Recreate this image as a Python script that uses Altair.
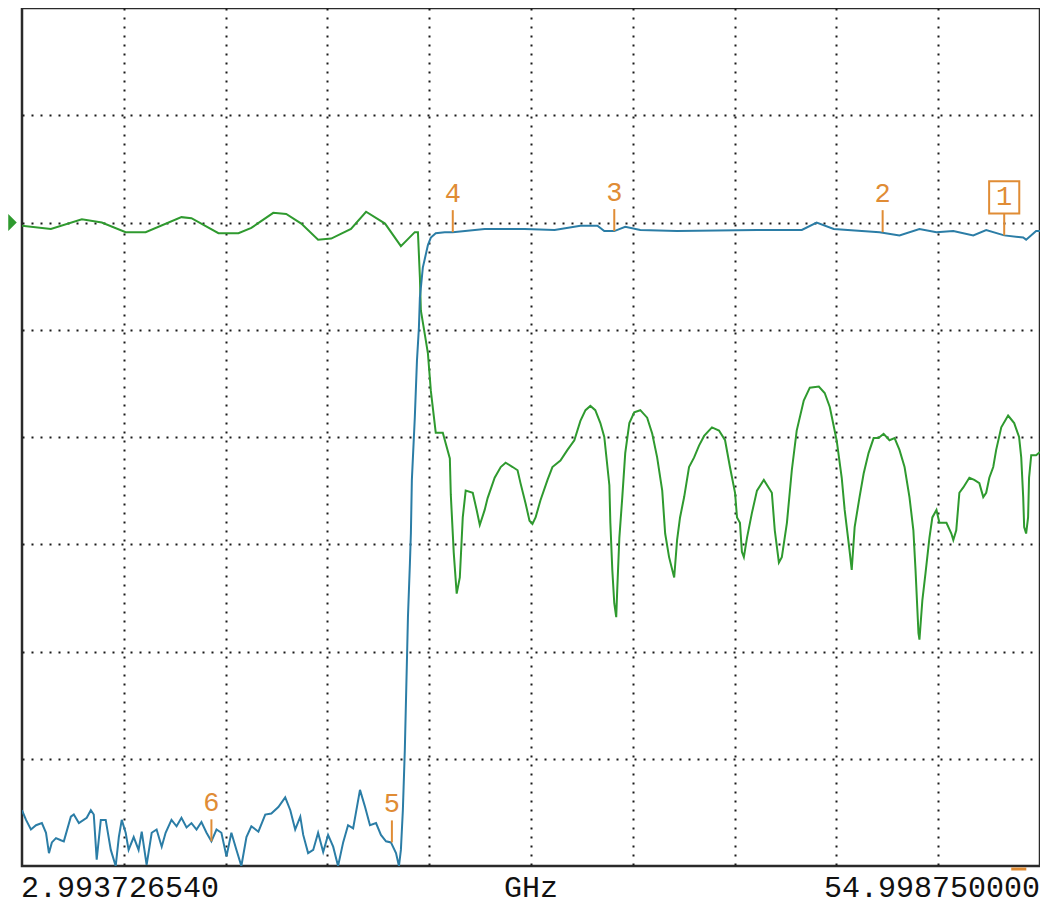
import altair as alt
import pandas as pd

# ---- axis / annotation texts ----
F_START = 2.993726540
F_STOP = 54.998750000
START_LABEL = "2.993726540"
STOP_LABEL = "54.998750000"
UNIT_LABEL = "GHz"
DB_MIN, DB_MAX = -60, 20   # 10 dB / division, reference 0 dB

# ---- green trace (reflection) : GHz / dB ----
green_f = [2.99, 4.47, 6.05, 7.07, 8.29, 9.31, 11.14, 11.65, 13.03, 14.05,
           14.71, 15.83, 16.49, 17.26, 18.12, 18.79, 19.80, 20.57, 21.54, 22.35,
           23.06, 23.22, 23.32, 23.37, 23.57, 23.73, 23.88, 24.13, 24.49, 24.85,
           24.90, 25.05, 25.20, 25.36, 25.51, 25.66, 26.02, 26.22, 26.38, 26.63,
           26.78, 27.14, 27.45, 27.70, 28.06, 28.31, 28.46, 28.72, 28.92, 29.07,
           29.23, 29.48, 29.84, 30.09, 30.50, 30.86, 31.21, 31.52, 31.78, 32.03,
           32.28, 32.54, 32.74, 33.00, 33.05, 33.15, 33.25, 33.35, 33.40, 33.51,
           33.66, 33.81, 34.02, 34.27, 34.58, 34.93, 35.19, 35.44, 35.70, 35.85,
           36.05, 36.31, 36.46, 36.61, 36.82, 37.07, 37.33, 37.58, 37.84, 38.24,
           38.60, 38.91, 39.16, 39.42, 39.52, 39.67, 39.77, 39.87, 40.03, 40.28,
           40.54, 40.89, 41.30, 41.45, 41.66, 41.81, 42.07, 42.32, 42.57, 42.93,
           43.24, 43.70, 44.00, 44.26, 44.61, 44.87, 45.02, 45.27, 45.38, 45.53,
           45.78, 45.99, 46.24, 46.50, 46.75, 47.01, 47.31, 47.57, 47.82, 48.08,
           48.33, 48.53, 48.64, 48.79, 48.84, 48.99, 49.15, 49.35, 49.50, 49.71,
           49.86, 50.22, 50.47, 50.57, 50.72, 50.88, 51.08, 51.39, 51.64, 51.90,
           52.10, 52.25, 52.41, 52.61, 52.76, 53.02, 53.37, 53.68, 53.93, 54.04,
           54.14, 54.19, 54.29, 54.39, 54.44, 54.55, 54.80, 55.00]
green_db = [-0.3, -0.6, 0.3, 0.0, -0.9, -0.9, 0.5, 0.4, -1.0, -1.0,
            -0.5, 0.9, 0.8, -0.1, -1.6, -1.5, -0.6, 1.0, -0.1, -2.2,
            -0.9, -0.9, -5.1, -8.2, -10.4, -12.2, -15.7, -19.6, -19.6, -22.0,
            -25.4, -30.8, -34.6, -33.1, -27.5, -25.0, -25.2, -26.8, -28.2, -26.8,
            -25.7, -23.8, -22.8, -22.4, -22.8, -23.1, -24.3, -26.2, -27.8, -28.1,
            -27.5, -25.9, -24.0, -22.8, -22.2, -21.2, -20.3, -18.5, -17.5, -17.1,
            -17.5, -18.7, -20.0, -24.5, -28.0, -32.4, -35.5, -36.8, -34.3, -29.4,
            -25.6, -21.5, -18.7, -17.7, -17.5, -18.2, -19.7, -21.9, -25.0, -29.0,
            -31.2, -33.1, -29.6, -27.5, -25.6, -22.8, -21.9, -20.8, -19.9, -19.1,
            -19.4, -20.3, -22.8, -25.2, -27.5, -28.0, -30.7, -31.2, -29.4, -27.1,
            -25.0, -24.0, -25.2, -28.7, -31.7, -31.2, -28.0, -23.1, -19.4, -16.6,
            -15.4, -15.3, -15.9, -17.2, -20.3, -23.8, -26.8, -30.6, -32.4, -28.4,
            -25.6, -23.4, -21.5, -20.1, -20.1, -19.7, -20.3, -20.1, -21.2, -22.8,
            -25.6, -28.7, -32.4, -38.3, -38.9, -35.2, -32.7, -29.4, -27.5, -26.8,
            -28.0, -28.0, -29.0, -29.6, -28.7, -25.2, -24.7, -23.8, -24.0, -24.3,
            -25.6, -25.2, -23.8, -22.8, -21.2, -19.1, -18.0, -18.7, -20.0, -21.9,
            -25.6, -28.4, -29.0, -27.5, -23.8, -21.7, -21.7, -21.4]

# ---- blue trace (transmission) : GHz / dB ----
blue_f = [2.99, 3.20, 3.45, 3.71, 4.01, 4.22, 4.37, 4.52, 4.73, 4.98,
          5.13, 5.49, 5.64, 5.90, 6.30, 6.51, 6.66, 6.81, 7.02, 7.27,
          7.53, 7.78, 7.94, 8.09, 8.29, 8.44, 8.70, 8.95, 9.11, 9.36,
          9.62, 9.87, 10.13, 10.33, 10.63, 10.89, 11.14, 11.40, 11.65, 11.91,
          12.16, 12.42, 12.67, 12.93, 13.18, 13.44, 13.69, 13.95, 14.20, 14.46,
          14.71, 15.07, 15.42, 15.73, 16.09, 16.44, 16.70, 16.95, 17.21, 17.36,
          17.61, 17.87, 18.12, 18.38, 18.63, 18.89, 19.14, 19.40, 19.65, 19.91,
          20.26, 20.52, 20.77, 21.08, 21.33, 21.59, 21.84, 22.10, 22.25, 22.35,
          22.45, 22.55, 22.71, 22.81, 22.86, 22.91, 23.06, 23.17, 23.27, 23.32,
          23.47, 23.57, 23.73, 23.88, 24.13, 24.59, 25.00, 26.63, 28.67, 30.20,
          31.52, 32.39, 32.74, 33.25, 33.81, 34.58, 36.46, 40.54, 42.83, 43.59,
          44.46, 46.80, 47.82, 48.84, 49.71, 50.57, 51.59, 52.25, 53.17, 54.14,
          54.29, 54.80, 55.00]
blue_db = [-54.8, -55.7, -56.6, -56.2, -56.0, -56.9, -58.8, -57.8, -57.4, -57.6,
           -57.7, -55.4, -55.2, -56.0, -55.5, -54.8, -55.2, -59.4, -55.7, -55.7,
           -58.5, -60.0, -57.3, -55.7, -56.9, -58.5, -57.3, -58.5, -56.8, -59.9,
           -56.9, -56.6, -58.2, -56.9, -55.7, -56.3, -55.5, -56.4, -56.0, -56.6,
           -55.9, -56.9, -57.7, -56.6, -56.9, -59.1, -56.9, -58.5, -60.0, -57.3,
           -56.3, -56.8, -55.2, -55.1, -54.5, -53.6, -54.8, -56.6, -55.4, -57.1,
           -58.8, -58.5, -56.9, -58.7, -57.1, -58.2, -60.0, -57.8, -56.2, -56.5,
           -52.9, -54.5, -56.2, -56.0, -57.1, -57.7, -57.8, -58.8, -60.0, -58.5,
           -54.8, -49.2, -36.8, -31.8, -29.0, -24.0, -18.2, -12.9, -9.8, -7.0,
           -4.2, -3.4, -2.1, -1.4, -1.0, -0.9, -0.9, -0.6, -0.6, -0.7,
           -0.3, -0.3, -0.8, -0.8, -0.4, -0.7, -0.8, -0.7, -0.7, 0.0,
           -0.6, -0.9, -1.2, -0.6, -0.9, -0.8, -1.2, -0.7, -1.2, -1.4,
           -1.6, -0.8, -0.8]

# ---- markers ----
mk_label = ["1", "2", "3", "4", "5", "6"]
mk_f = [53.17, 46.96, 33.25, 25.00, 21.89, 12.67]
mk_db = [-1.2, -0.9, -0.8, -0.9, -57.8, -57.7]
active_marker = "1"
stop_flag_f = [53.53, 54.30]

GREEN = "#2f9a2f"
BLUE = "#2b7da6"
ORANGE = "#e08c35"
FONT = "Liberation Mono"

W, H = 1018, 858
PAD_L = 14

green_df = pd.DataFrame({"f": green_f, "db": green_db, "i": range(len(green_f))})
blue_df = pd.DataFrame({"f": blue_f, "db": blue_db, "i": range(len(blue_f))})
mk_df = pd.DataFrame({"f": mk_f, "db": mk_db, "label": mk_label})

div_x = [F_START + k * (F_STOP - F_START) / 10 for k in range(1, 10)]
div_y = list(range(DB_MIN + 10, DB_MAX, 10))

xs = alt.Scale(domain=[F_START, F_STOP], nice=False, zero=False)
ys = alt.Scale(domain=[DB_MIN, DB_MAX], nice=False, zero=False)
ax_x = alt.Axis(values=div_x, grid=True, labels=False, ticks=False, domain=False,
                title=None, gridDash=[2, 7], gridColor="#1a1a1a", gridWidth=2)
ax_y = alt.Axis(values=div_y, grid=True, labels=False, ticks=False, domain=False,
                title=None, gridDash=[2, 7], gridColor="#1a1a1a", gridWidth=2)

X = alt.X("f:Q", scale=xs, axis=ax_x)
Y = alt.Y("db:Q", scale=ys, axis=ax_y)

green_line = alt.Chart(green_df).mark_line(color=GREEN, strokeWidth=2, clip=True).encode(
    x=X, y=Y, order="i:Q")
blue_line = alt.Chart(blue_df).mark_line(color=BLUE, strokeWidth=2, clip=True).encode(
    x=X, y=Y, order="i:Q")

mk_tick = alt.Chart(mk_df).mark_rule(color=ORANGE, strokeWidth=2, y2Offset=-22).encode(
    x=X, y=Y, y2="db:Q")
mk_text = alt.Chart(mk_df).mark_text(color=ORANGE, font=FONT, fontSize=27, dy=-38,
                                     baseline="middle", align="center").encode(
    x=X, y=Y, text="label:N")
mk_box = alt.Chart(mk_df[mk_df["label"] == active_marker]).mark_point(
    shape="M-0.93,-1L0.93,-1L0.93,1L-0.93,1Z", size=1050, filled=False, color=ORANGE,
    strokeWidth=2, yOffset=-38, opacity=1).encode(x=X, y=Y)

flag_df = pd.DataFrame({"f": [stop_flag_f[0]], "f2": [stop_flag_f[1]], "db": [DB_MIN]})
flag = alt.Chart(flag_df).mark_rule(color=ORANGE, strokeWidth=3, yOffset=3).encode(
    x=X, x2="f2:Q", y=Y)

ref_df = pd.DataFrame({"db": [0]})
ref_tri = alt.Chart(ref_df).mark_point(
    shape="M-0.5,-1L0.5,0L-0.5,1Z", size=289, filled=True, color=GREEN, opacity=1).encode(
    x=alt.value(-9.5), y=Y)

one = pd.DataFrame({"a": [0]})
lab_start = alt.Chart(one).mark_text(font=FONT, fontSize=30, align="left", baseline="middle",
                                     color="#111").encode(
    x=alt.value(-1), y=alt.value(H + 22), text=alt.value(START_LABEL))
lab_unit = alt.Chart(one).mark_text(font=FONT, fontSize=30, align="center", baseline="middle",
                                    color="#111").encode(
    x=alt.value(W / 2), y=alt.value(H + 22), text=alt.value(UNIT_LABEL))
lab_stop = alt.Chart(one).mark_text(font=FONT, fontSize=30, align="right", baseline="middle",
                                    color="#111").encode(
    x=alt.value(W), y=alt.value(H + 22), text=alt.value(STOP_LABEL))

chart = alt.layer(
    green_line, blue_line, mk_tick, mk_text, mk_box, flag, ref_tri,
    lab_start, lab_unit, lab_stop
).properties(
    width=W, height=H,
    padding={"left": PAD_L, "top": 0, "right": 0, "bottom": 44},
    autosize=alt.AutoSizeParams(type="none"),
    background="white",
).configure_view(
    stroke="#2a2a2a", strokeWidth=2.5
)

chart.save("out.html", embed_options={"renderer": "svg", "actions": False})
